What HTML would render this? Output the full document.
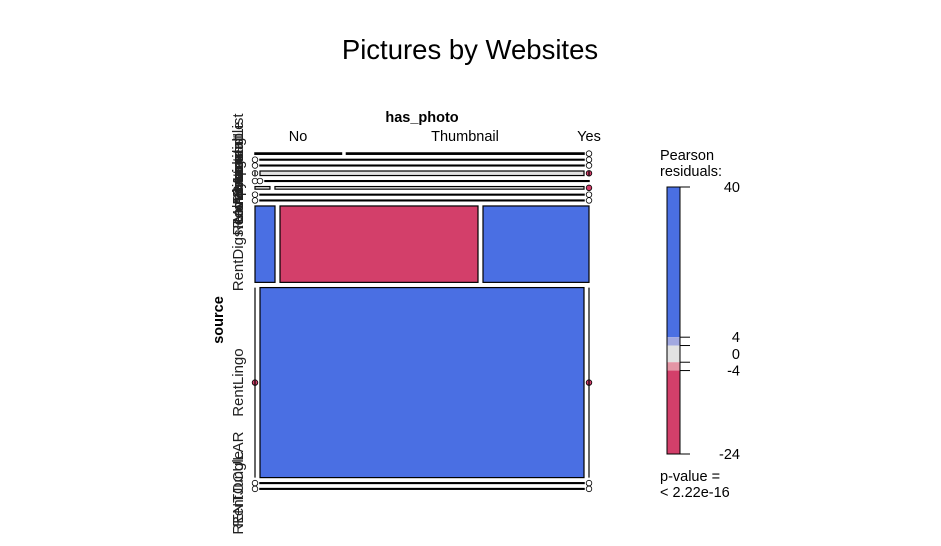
<!DOCTYPE html>
<html><head><meta charset="utf-8"><style>
html,body{margin:0;padding:0;background:#fff;}
svg{display:block;font-family:"Liberation Sans",Arial,sans-serif;}
</style></head><body>
<svg id="chart" width="941" height="546" viewBox="0 0 941 546">
<text x="470" y="59" font-size="27.5" text-anchor="middle">Pictures by Websites</text>
<text x="422" y="122" font-size="14.5" font-weight="bold" text-anchor="middle">has_photo</text>
<text transform="translate(223,320) rotate(-90)" font-size="14.5" font-weight="bold" text-anchor="middle">source</text>
<g id="cells"></g>
<g id="legend"></g>
</svg>
<script>
const columns = ["No","Thumbnail","Yes"];
const sources = ["Apartable","ApartmentList","Craigslist","Listanza","LovelyListing","Move.com","RealRentals","RentBits","RentDigs.com","RentLingo","RENTOCULAR","RentJungle"];
const rowTotals = [1.2,0.6,0.6,4.5,0.6,2.6,0.6,0.6,76,189,0.5,0.5];
const colNo = [87,0,0,0,0,15,0,0,20,0,0,0];
const colThumb = [239,1,1,1,0,310,1,1,198,1,1,1];
const colYes = [0,0,0,0,1,0,0,0,106,0,0,0];
const resNo = [1,0,0,0,0,1,0,0,30,-5,0,0];
const resThumb = [1,0,0,0,0,0,0,0,-20,30,0,0];
const resYes = [0,0,0,-5,0,-5,0,0,30,-5,0,0];
const legendTicks = [40,4,0,-4,-24];
const legendBreaks = [40,4,2,-2,-4,-24];

const NS="http://www.w3.org/2000/svg";
const X0=255, X1=589, Y0=153, Y1=489, GX=5, GY=5.2;
function fillFor(r){ if(r>4) return "#4a6fe3"; if(r>2) return "#a1a8e0"; if(r>=-2) return "#e2e2e2"; if(r>=-4) return "#e495a5"; return "#d33f6a"; }
function mk(tag,attrs,parent){const e=document.createElementNS(NS,tag);for(const k in attrs)e.setAttribute(k,attrs[k]);parent.appendChild(e);return e;}
const cells=document.getElementById('cells');
const svg=document.getElementById('chart');
const sumT=rowTotals.reduce((a,b)=>a+b,0);
const H=(Y1-Y0)-GY*(rowTotals.length-1);
function yScale(v){return v/sumT*H;}
let y=Y0;
const vals=[colNo,colThumb,colYes], ress=[resNo,resThumb,resYes];
sources.forEach((s,i)=>{
  const h=Math.max(yScale(rowTotals[i]),0.6);
  const rowSum=vals[0][i]+vals[1][i]+vals[2][i];
  const W=(X1-X0)-GX*2;
  let x=X0;
  for(let j=0;j<3;j++){
    const v=vals[j][i];
    if(v>0){
      const w=v/rowSum*W;
      const r=mk('rect',{x:x,y:y,width:w,height:h,fill:fillFor(ress[j][i]),stroke:"#000","stroke-width":(h<2?1.5:1.2)},cells);
      
      
      x+=w+GX;
    } else {
      const c=mk('circle',{cx:x,cy:y+h/2,r:2.8,fill:(ress[j][i]<-4?"#d33f6a":"#fff"),stroke:"#000","stroke-width":0.8},cells);
      
      
      if(h>4){const l=mk('line',{x1:x,x2:x,y1:y,y2:y+h,stroke:"#000","stroke-width":1.2},cells);
        
        }
      x+=GX;
    }
  }
  const t=mk('text',{transform:`translate(243,${y+h/2}) rotate(-90)`,"font-size":15,"text-anchor":"middle",fill:"#222"},svg);
  t.textContent=s;
  
  
  y+=h+GY;
});
const colX=[298,465,589];
columns.forEach((c,j)=>{
  const t=mk('text',{x:colX[j],y:141,"font-size":14.5,"text-anchor":"middle"},svg);
  t.textContent=c;
  
  
});
const lg=document.getElementById('legend');
const LT=187, LB=454, LX=667, LW=13;
function ly(v){return LT+(40-v)/(64)*(LB-LT);}
for(let k=0;k<legendBreaks.length-1;k++){
  const a=legendBreaks[k], b=legendBreaks[k+1];
  const mid=(a+b)/2;
  const r=mk('rect',{x:LX,y:ly(a),width:LW,height:ly(b)-ly(a),fill:fillFor(mid)},lg);
  
  
}
mk('rect',{x:LX,y:LT,width:LW,height:LB-LT,fill:"none",stroke:"#000","stroke-width":1},lg);
legendBreaks.forEach(v=>{mk('line',{x1:LX+LW,x2:LX+LW+10,y1:ly(v),y2:ly(v),stroke:"#000","stroke-width":1},lg);});
legendTicks.forEach(v=>{
  const t=mk('text',{x:740,y:ly(v)+5,"font-size":14.5,"text-anchor":"end"},lg);
  t.textContent=String(v);
  
  
});
[["Pearson",160],["residuals:",176],["p-value =",481],["< 2.22e-16",497]].forEach(([s,yy])=>{
  const t=mk('text',{x:660,y:yy,"font-size":14.5},lg);
  t.textContent=s;
  
  
});
</script>
</body></html>
